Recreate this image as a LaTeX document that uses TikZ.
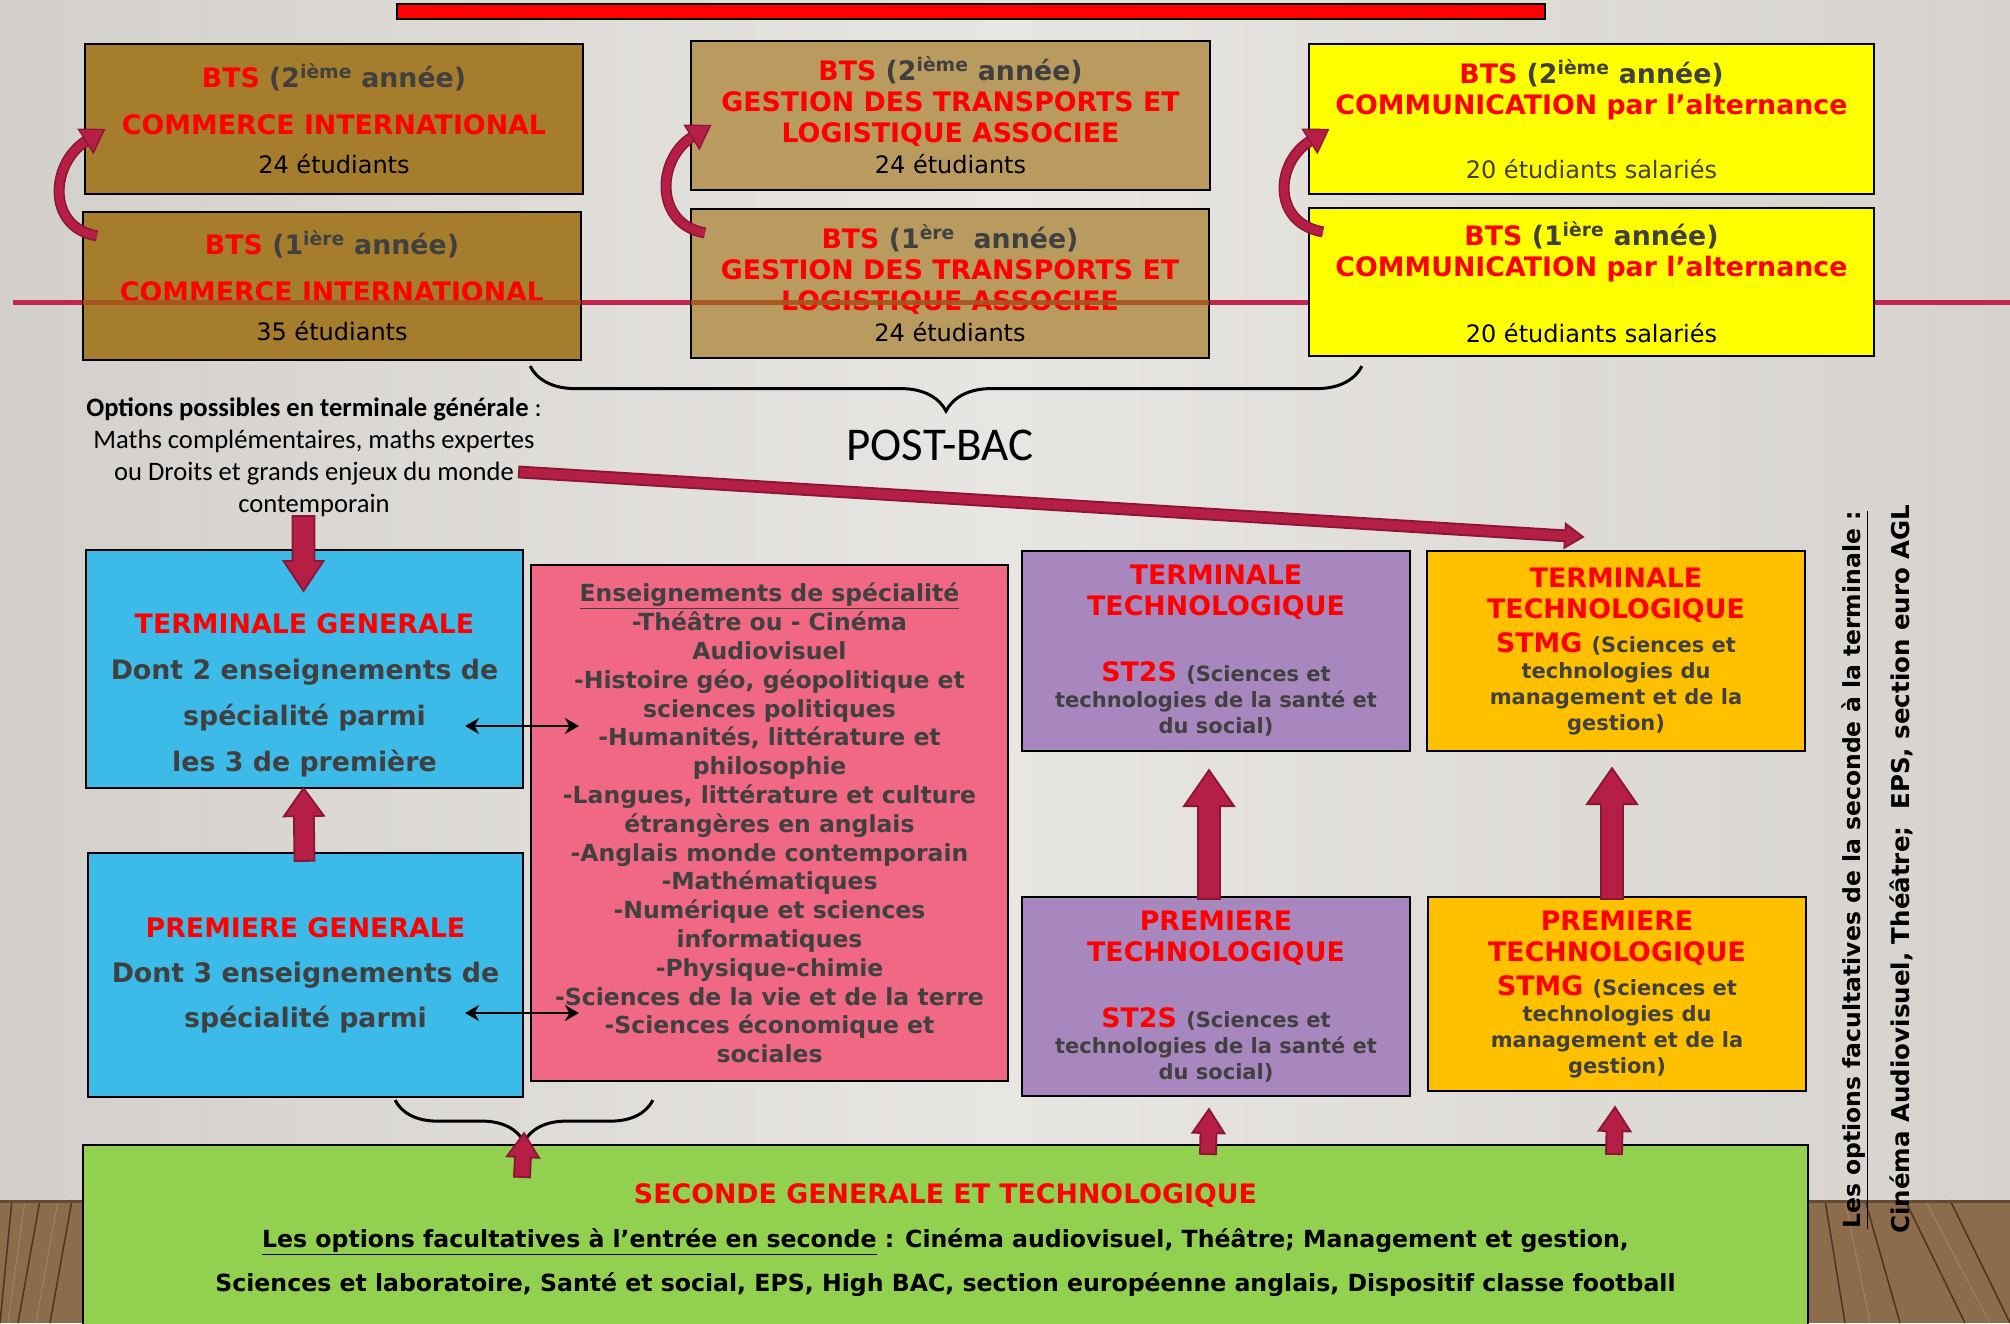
\documentclass[tikz,border=0pt]{standalone}
\usepackage{fontspec}
\setmainfont{DejaVu Sans}
\newfontfamily\carl{Carlito}
\usetikzlibrary{calc,arrows.meta,decorations.pathreplacing}
\definecolor{bred}{HTML}{FF0000}
\definecolor{dgray}{HTML}{404040}
\definecolor{crim}{HTML}{B51E45}
\definecolor{crimd}{HTML}{8A1535}
\definecolor{lineC}{HTML}{C2264C}
\definecolor{bandC}{HTML}{A9521F}
\definecolor{ciC}{HTML}{A67D2C}
\definecolor{gtC}{HTML}{B99B60}
\definecolor{yel}{HTML}{FFFF00}
\definecolor{blu}{HTML}{3DBBE8}
\definecolor{pnk}{HTML}{F06884}
\definecolor{pur}{HTML}{A887BF}
\definecolor{org}{HTML}{FFC000}
\definecolor{grn}{HTML}{92D050}
\definecolor{bgL}{HTML}{D3D0CB}
\definecolor{bgM}{HTML}{E8E6E2}
\definecolor{bgR}{HTML}{D6D3CE}
\definecolor{floorC}{HTML}{8C6C4A}
\definecolor{floorD}{HTML}{4D3521}
\definecolor{floorL}{HTML}{B09070}
\newcommand\fsz[2]{\fontsize{#1}{#2}\selectfont}
\newcommand\R[1]{\textcolor{bred}{#1}}
\newcommand\G[1]{\textcolor{dgray}{#1}}
\newcommand\SG[1]{{\fsz{21}{26}\color{dgray}#1}}
\newcommand\barr[5]{%
  \coordinate (ba) at #1; \coordinate (bb) at #2;
  \coordinate (bc) at ($(bb)!#5!(ba)$);
  \filldraw[fill=crim,draw=crimd,line width=1.8pt,line join=miter]
   ($(ba)!#3!90:(bb)$) -- ($(bc)!#3!90:(bb)$) -- ($(bc)!#4!90:(bb)$) -- (bb)
   -- ($(bc)!#4!-90:(bb)$) -- ($(bc)!#3!-90:(bb)$) -- ($(ba)!#3!-90:(bb)$) -- cycle;}
\newcommand\carr[4]{%
  \coordinate (cs) at #1; \coordinate (cp) at #2; \coordinate (cq) at #3; \coordinate (cc) at #4;
  \coordinate (ct) at ($(cc)!-22pt!(cq)$);
  \draw[crimd, line width=11pt] (cs) .. controls (cp) and (cq) .. (cc);
  \draw[crim, line width=8pt] (cs) .. controls (cp) and (cq) .. (cc);
  \filldraw[fill=crim, draw=crimd, line width=1.2pt] ($(cc)!14pt!90:(ct)$) -- (ct) -- ($(cc)!14pt!-90:(ct)$) -- cycle;}
\begin{document}
\begin{tikzpicture}[x=1pt,y=-1pt,
  box/.style={draw=black, line width=2.2pt, align=center, inner sep=0pt, font=\bfseries\fsz{26.8}{31}},
  txt/.style={align=center, inner sep=0pt},
  dbl/.style={{Stealth[length=14pt,width=16pt]}-{Stealth[length=14pt,width=16pt]}, line width=2.5pt, black}]
\useasboundingbox (0,0) rectangle (2010,1323);
% background
\shade[left color=bgL, right color=bgR, middle color=bgM] (0,0) rectangle (2010,1200);
\fill[floorC] (0,1200) rectangle (2010,1323);
\foreach \a/\b in {12/0, 40/18, 72/50, 1825/1845, 1865/1900, 1905/1965, 1950/2010}
  \draw[floorD, line width=1.5pt] (\a,1200) -- (\b,1323);
\foreach \a/\b in {25/8, 58/36, 1845/1870, 1925/1990}
  \draw[floorL, line width=1pt, opacity=0.6] (\a,1200) -- (\b,1323);
\draw[floorD!60!floorC, line width=3pt] (0,1201) -- (2010,1201);
% top red bar and horizontal line
\node[draw=black, line width=2pt, fill=red, minimum width=1148pt, minimum height=15pt, inner sep=0pt] (redbar) at (971,11.5) {};
\draw[lineC, line width=5pt] (13,302) -- (2010,302);
% BTS boxes
\node[box, fill=ciC, minimum width=498pt, minimum height=150pt] (ci2) at (334,119)
 {\R{BTS} \G{(2\textsuperscript{ième} année)}\\[16pt]
  \R{COMMERCE INTERNATIONAL}\\[8pt]
  {\mdseries\fsz{24}{29}24 étudiants}};
\node[box, fill=ciC, minimum width=498pt, minimum height=148pt] (ci1) at (332,286)
 {\R{BTS} \G{(1\textsuperscript{ière} année)}\\[16pt]
  \R{COMMERCE INTERNATIONAL}\\[8pt]
  {\mdseries\fsz{24}{29}35 étudiants}};
\node[box, fill=gtC, minimum width=519pt, minimum height=149pt] (gt2) at (950.5,115.5)
 {\R{BTS} \G{(2\textsuperscript{ième} année)}\\
  \R{GESTION DES TRANSPORTS ET}\\
  \R{LOGISTIQUE ASSOCIEE}\\
  {\mdseries\fsz{24}{29}24 étudiants}};
\node[box, fill=gtC, minimum width=518pt, minimum height=149pt] (gt1) at (950,283.5)
 {\R{BTS} \G{(1\textsuperscript{ère}\ \ année)}\\
  \R{GESTION DES TRANSPORTS ET}\\
  \R{LOGISTIQUE ASSOCIEE}\\
  {\mdseries\fsz{24}{29}24 étudiants}};
\fill[bandC, opacity=0.9] ($(ci1.west)+(1,14)$) rectangle ($(ci1.east)+(-1,19)$);
\fill[bandC, opacity=0.9] ($(gt1.west)+(1,16)$) rectangle ($(gt1.east)+(-1,21)$);
\node[box, fill=yel, minimum width=565pt, minimum height=150pt] (com2) at (1591.5,119)
 {\R{BTS} \G{(2\textsuperscript{ième} année)}\\
  \R{COMMUNICATION par l’alternance}\\[33pt]
  {\mdseries\fsz{24}{29}\G{20 étudiants salariés}}};
\node[box, fill=yel, minimum width=565pt, minimum height=148pt] (com1) at (1591.5,282)
 {\R{BTS} \G{(1\textsuperscript{ière} année)}\\
  \R{COMMUNICATION par l’alternance}\\[35pt]
  {\mdseries\fsz{24}{29}20 étudiants salariés}};
% braces and labels
\draw[line width=3pt, decorate, decoration={brace, mirror, amplitude=45pt}]
  ($(ci1.south east)+(-52,5)$) -- ($(com1.south west)+(54,9)$);
\node[txt, font=\carl\fsz{47}{50}] (postbac) at (940,445) {POST-BAC};
\node[txt, font=\carl\fsz{26.6}{32}] (opt) at (314,457.5)
 {\textbf{Options possibles en terminale générale} :\\
  Maths complémentaires, maths expertes\\
  ou Droits et grands enjeux du monde\\
  contemporain};
\coordinate (dgS) at (519,472);
% general
\node[box, fill=blu, minimum width=437pt, minimum height=238pt] (tg) at (304.5,669) {};
\node[txt, font=\bfseries\fsz{26.8}{46}] (tgtxt) at (304.5,695)
 {\R{TERMINALE GENERALE}\\ \G{Dont 2 enseignements de}\\ \G{spécialité parmi}\\ \G{les 3 de première}};
\node[box, fill=blu, minimum width=435pt, minimum height=244pt, font=\bfseries\fsz{26.8}{45}] (pg) at (305.5,975)
 {\R{PREMIERE GENERALE}\\ \G{Dont 3 enseignements de}\\ \G{spécialité parmi}};
\node[box, fill=pnk, minimum width=477pt, minimum height=516pt, font=\bfseries\fsz{23.5}{28.8}, text=dgray] (pk) at (769.5,823)
 {\underline{Enseignements de spécialité}\\
  -Théâtre ou - Cinéma\\
  Audiovisuel\\
  -Histoire géo, géopolitique et\\
  sciences politiques\\
  -Humanités, littérature et\\
  philosophie\\
  -Langues, littérature et culture\\
  étrangères en anglais\\
  -Anglais monde contemporain\\
  -Mathématiques\\
  -Numérique et sciences\\
  informatiques\\
  -Physique-chimie\\
  -Sciences de la vie et de la terre\\
  -Sciences économique et\\
  sociales};
% technological
\node[box, fill=pur, minimum width=388pt, minimum height=200pt] (tt) at (1216,651)
 {\R{TERMINALE}\\ \R{TECHNOLOGIQUE}\\[35pt]
  \R{ST2S} \SG{(Sciences et}\\[-5pt] \SG{technologies de la santé et}\\[-5pt] \SG{du social)}};
\node[box, fill=org, minimum width=378pt, minimum height=200pt] (tstmg) at (1616,651)
 {\R{TERMINALE}\\ \R{TECHNOLOGIQUE}\\[3pt]
  \R{STMG} \SG{(Sciences et}\\[-5pt] \SG{technologies du}\\[-5pt] \SG{management et de la}\\[-5pt] \SG{gestion)}};
\node[box, fill=pur, minimum width=388pt, minimum height=199pt] (ptech) at (1216,996.5)
 {\R{PREMIERE}\\ \R{TECHNOLOGIQUE}\\[35pt]
  \R{ST2S} \SG{(Sciences et}\\[-5pt] \SG{technologies de la santé et}\\[-5pt] \SG{du social)}};
\node[box, fill=org, minimum width=378pt, minimum height=194pt] (pstmg) at (1617,994)
 {\R{PREMIERE}\\ \R{TECHNOLOGIQUE}\\[3pt]
  \R{STMG} \SG{(Sciences et}\\[-5pt] \SG{technologies du}\\[-5pt] \SG{management et de la}\\[-5pt] \SG{gestion)}};
% seconde
\node[box, fill=grn, line width=2pt, minimum width=1725pt, minimum height=190pt, font=\bfseries\fsz{23.6}{44}] (grn) at (945.5,1240)
 {{\fsz{26.8}{44}\R{SECONDE GENERALE ET TECHNOLOGIQUE}}\\
  \underline{Les options facultatives à l’entrée en seconde} : Cinéma audiovisuel, Théâtre; Management et gestion,\\
  Sciences et laboratoire, Santé et social, EPS, High BAC, section européenne anglais, Dispositif classe football};
\draw[line width=3pt, decorate, decoration={brace, mirror, amplitude=42pt}]
  ($(pg.south east)+(-129,2)$) -- ($(pk.south west)+(123,18)$);
% vertical side text
\node[txt, rotate=90, font=\bfseries\fsz{23.5}{28}] (vt1) at (1855,870)
 {\underline{Les options facultatives de la seconde à la terminale :}};
\node[txt, rotate=90, font=\bfseries\fsz{24.5}{28}] (vt2) at (1901,869)
 {Cinéma Audiovisuel, Théâtre;\ \ EPS, section euro AGL};
% double arrows
\draw[dbl] ($(tg.east)+(-59,57)$) -- ($(pk.west)+(49,-97)$);
\draw[dbl] ($(pg.east)+(-59,38)$) -- ($(pk.west)+(49,190)$);
% curved arrows
\carr{($(ci1.north west)+(15,25)$)}{($(ci1.north west)+(-36,16)$)}{($(ci2.south west)+(-33,-32)$)}{($(ci2.south west)+(2,-54)$)}
\carr{($(gt1.north west)+(15,25)$)}{($(gt1.north west)+(-36,16)$)}{($(gt2.south west)+(-33,-32)$)}{($(gt2.south west)+(2,-54)$)}
\carr{($(com1.north west)+(15,25)$)}{($(com1.north west)+(-36,16)$)}{($(com2.south west)+(-33,-32)$)}{($(com2.south west)+(2,-54)$)}
% block arrows
\barr{(dgS)}{($(tstmg.north)+(-33,-13)$)}{5.5pt}{12pt}{18pt}
\barr{($(tg.north)+(-1,-33)$)}{($(tg.north)+(-1,42)$)}{11pt}{20pt}{30pt}
\barr{($(pg.north)+(-1,9)$)}{($(tg.south)+(-1,-1)$)}{10pt}{20pt}{28pt}
\barr{($(ptech.north)+(-7,3)$)}{($(tt.south)+(-7,18)$)}{11pt}{25pt}{36pt}
\barr{($(pstmg.north)+(-5,3)$)}{($(tstmg.south)+(-4,16)$)}{11pt}{25pt}{36pt}
\barr{($(grn.north west)+(440,33)$)}{($(pg.south east)+(0,35)$)}{8pt}{16pt}{24pt}
\barr{($(grn.north west)+(1126,10)$)}{($(ptech.south)+(-7,12)$)}{8pt}{16pt}{24pt}
\barr{($(grn.north west)+(1532,10)$)}{($(pstmg.south)+(-2,15)$)}{8pt}{16pt}{24pt}
\end{tikzpicture}
\end{document}
